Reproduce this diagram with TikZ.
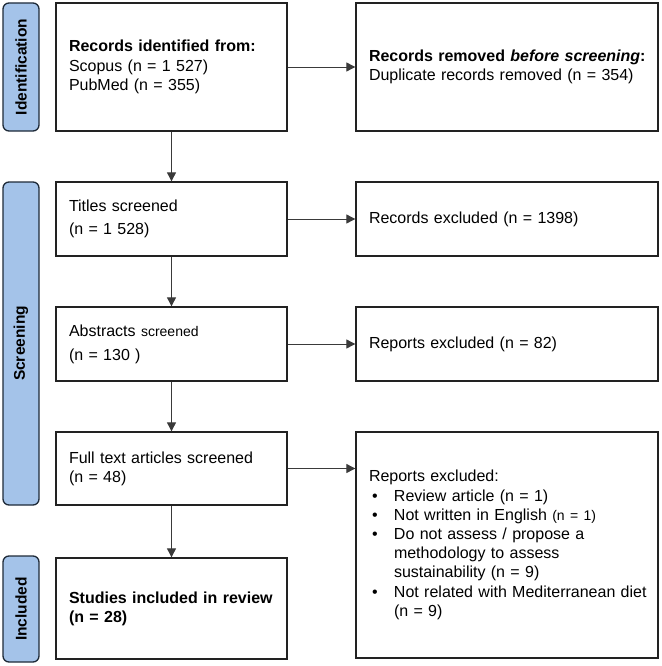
\documentclass[tikz,border=0pt]{standalone}
\usepackage{fontspec}
\setmainfont{Liberation Sans}
\usetikzlibrary{arrows.meta}
\definecolor{barfill}{HTML}{A4C3E9}
\definecolor{barline}{HTML}{1E2A38}
\definecolor{boxline}{HTML}{222222}
\definecolor{arrline}{HTML}{3A3A3A}
\tikzset{
  base/.style={font=\fontsize{16}{19.2}\selectfont},
  box/.style={base, draw=boxline, line width=1.3pt, fill=white, inner sep=0pt, align=left, anchor=center},
  lbox/.style={box, text width=205pt, minimum width=231pt},
  rbox/.style={box, text width=276pt, minimum width=302pt},
  bar/.style={draw=barline, fill=barfill, line width=1.3pt, rounded corners=6pt, rotate=90,
    minimum height=36pt, inner sep=0pt, font=\fontsize{15.5}{18}\selectfont\bfseries},
  conn/.style={draw=arrline, line width=0.9pt, -{Triangle[length=9pt,width=9pt]}},
}
\newcommand{\bul}{\makebox[25pt][l]{\hspace{3pt}•}}
\hbadness=10000 \hfuzz=100pt
\begin{document}
\begin{tikzpicture}[x=1pt,y=-1pt]
\useasboundingbox (0,0) rectangle (661,666);
% side bars
\node[bar, minimum width=128pt] (bid) at (21,67) {Identification};
\node[bar, minimum width=323pt] (bsc) at (21,343.5) {Screening};
\node[bar, minimum width=106pt] (bin) at (21,609) {Included};
% left boxes
\node[lbox, minimum height=128pt] (rid) at (171.5,67)
  {\textbf{Records identified from:}\\Scopus (n = 1 527)\\PubMed (n = 355)};
\node[lbox, minimum height=74pt, font=\fontsize{16}{23}\selectfont] (tit) at (171.5,219)
  {Titles screened\\(n = 1 528)};
\node[lbox, minimum height=74pt, font=\fontsize{16}{24}\selectfont] (abs) at (171.5,344)
  {Abstracts {\fontsize{14}{16}\selectfont screened}\\(n = 130 )};
\node[lbox, minimum height=73pt] (ful) at (171.5,468.5)
  {Full text articles screened\\(n = 48)};
\node[lbox, minimum height=101pt] (stu) at (171.5,608.5)
  {\textbf{Studies included in review}\\\textbf{(n = 28)}};
% right boxes
\node[rbox, minimum height=128pt] (rem) at (507,67)
  {\mbox{\textbf{Records removed \textit{before screening}:}}\\\mbox{Duplicate records removed (n = 354)}};
\node[rbox, minimum height=74pt] (rex) at (507,219)
  {Records excluded (n = 1398)};
\node[rbox, minimum height=74pt] (rep) at (507,344)
  {Reports excluded (n = 82)};
\node[rbox, minimum height=226pt] (rep2) at (507,545)
  {Reports excluded:\\
   \mbox{\bul Review article (n = 1)}\\
   \mbox{\bul Not written in English {\fontsize{14}{16}\selectfont (n = 1)}}\\
   \mbox{\bul Do not assess / propose a}\\
   \mbox{\hspace*{25pt}methodology to assess}\\
   \mbox{\hspace*{25pt}sustainability (n = 9)}\\
   \mbox{\bul Not related with Mediterranean diet}\\
   \mbox{\hspace*{25pt}(n = 9)}};
% connectors
\draw[conn] (rid) -- (tit);
\draw[conn] (tit) -- (abs);
\draw[conn] (abs) -- (ful);
\draw[conn] (ful) -- (stu);
\draw[conn] (rid) -- (rem);
\draw[conn] (tit) -- (rex);
\draw[conn] (abs) -- (rep);
\draw[conn] (ful.east) -- (ful.east -| rep2.west);
\end{tikzpicture}
\end{document}
